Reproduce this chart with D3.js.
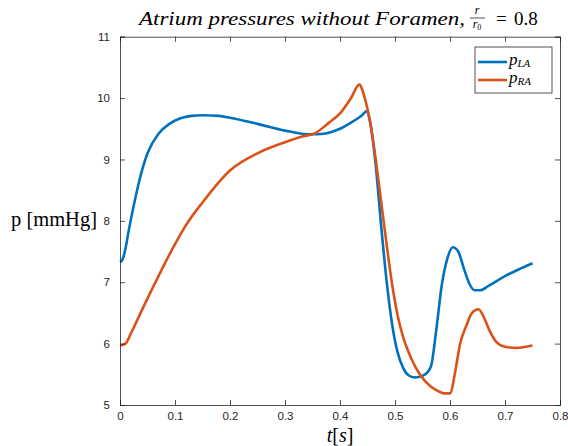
<!DOCTYPE html>
<html lang="en">
<head>
<meta charset="UTF-8">
<script src="https://d3js.org/d3.v7.min.js"></script>
<title>Atrium pressures</title>
<style>
  body { margin: 0; background: #fff; }
  svg { display: block; }
</style>
</head>
<body>
<script>
// left atrium pressure
var tLA = [0, 0.004, 0.01, 0.015, 0.025, 0.035, 0.05, 0.07, 0.09, 0.11, 0.13, 0.15, 0.18, 0.2, 0.25, 0.3, 0.33, 0.35, 0.37, 0.4, 0.42, 0.44, 0.449,
           0.455, 0.465, 0.475, 0.485, 0.495, 0.505, 0.515, 0.525, 0.535, 0.545, 0.555, 0.562, 0.566,
           0.575, 0.585, 0.595, 0.605, 0.615, 0.625, 0.635, 0.645, 0.655, 0.67, 0.7, 0.73, 0.75]
var pLA = [7.33, 7.36, 7.55, 7.8, 8.25, 8.65, 9.1, 9.42, 9.58, 9.67, 9.71, 9.72, 9.71, 9.68, 9.58, 9.47, 9.42, 9.41, 9.42, 9.5, 9.6, 9.72, 9.79,
           9.6, 8.9, 7.9, 7.0, 6.3, 5.85, 5.6, 5.48, 5.45, 5.46, 5.5, 5.57, 5.65,
           6.22, 6.95, 7.38, 7.57, 7.5, 7.23, 6.98, 6.87, 6.87, 6.94, 7.1, 7.23, 7.31]

// right atrium pressure
var tRA = [0, 0.01, 0.02, 0.04, 0.06, 0.08, 0.1, 0.12, 0.15, 0.2, 0.25, 0.3, 0.33, 0.355, 0.38, 0.4, 0.42, 0.435,
           0.445, 0.455, 0.465, 0.475, 0.485, 0.495, 0.505, 0.515, 0.53, 0.545, 0.565, 0.58, 0.59, 0.6,
           0.61, 0.618, 0.63, 0.64, 0.652, 0.662, 0.673, 0.684, 0.7, 0.72, 0.75]
var pRA = [5.97, 6.0, 6.17, 6.55, 6.92, 7.28, 7.62, 7.93, 8.3, 8.82, 9.1, 9.28, 9.37, 9.43, 9.6, 9.75, 10.0, 10.22,
           10.0, 9.6, 9.0, 8.3, 7.6, 6.95, 6.45, 6.1, 5.75, 5.5, 5.3, 5.22, 5.19, 5.19,
           5.57, 5.98, 6.3, 6.5, 6.56, 6.42, 6.19, 6.03, 5.95, 5.93, 5.97]

var xTicks = [0, 0.1, 0.2, 0.3, 0.4, 0.5, 0.6, 0.7, 0.8]
var yTicks = [5, 6, 7, 8, 9, 10, 11]

var width = 568, height = 446
var margin = { top: 36.7, right: 8, bottom: 41, left: 120 }

var svg = d3.select("body").append("svg")
    .attr("width", width)
    .attr("height", height)

var x = d3.scaleLinear().domain([0, 0.8]).range([margin.left, width - margin.right])
var y = d3.scaleLinear().domain([5, 11]).range([height - margin.bottom, margin.top])

var axisColor = "#262626"
var tickLen = 5

// lines
var line = d3.line()
    .x(function (d) { return x(d[0]) })
    .y(function (d) { return y(d[1]) })
    .curve(d3.curveMonotoneX)

var series = [
    { t: tLA, p: pLA, color: "#0072BD" },
    { t: tRA, p: pRA, color: "#D95319" }
]

svg.selectAll("path.series")
    .data(series)
    .enter()
    .append("path")
    .attr("class", "series")
    .attr("fill", "none")
    .attr("stroke", function (d) { return d.color })
    .attr("stroke-width", 2.6)
    .attr("stroke-linejoin", "round")
    .attr("d", function (d) { return line(d.t.map(function (t, i) { return [t, d.p[i]] })) })

// axes (ticks inward, box on)
var gBottom = svg.append("g").attr("transform", "translate(0," + y(5) + ")")
    .call(d3.axisBottom(x).tickValues(xTicks).tickSize(-tickLen).tickPadding(7).tickFormat(d3.format("")))
var gTop = svg.append("g").attr("transform", "translate(0," + y(11) + ")")
    .call(d3.axisTop(x).tickValues(xTicks).tickSize(-tickLen).tickFormat(""))
var gLeft = svg.append("g").attr("transform", "translate(" + x(0) + ",0)")
    .call(d3.axisLeft(y).tickValues(yTicks).tickSize(-tickLen).tickPadding(10).tickFormat(d3.format("d")))
var gRight = svg.append("g").attr("transform", "translate(" + x(0.8) + ",0)")
    .call(d3.axisRight(y).tickValues(yTicks).tickSize(-tickLen).tickFormat(""))

;[gBottom, gTop, gLeft, gRight].forEach(function (g) {
    g.select(".domain").attr("stroke", axisColor).attr("stroke-width", 0.8)
    g.selectAll(".tick line").attr("stroke", axisColor).attr("stroke-width", 0.8)
    g.selectAll("text").attr("fill", axisColor)
        .style("font-family", "'Liberation Sans', Arial, sans-serif")
        .style("font-size", "11.5px")
})

// title
var serif = "'Liberation Serif', 'DejaVu Serif', serif"
var title = svg.append("g").style("font-family", serif).attr("fill", "#000")
title.append("text")
    .attr("x", 139).attr("y", 25)
    .attr("font-style", "italic")
    .attr("font-size", "19px")
    .attr("textLength", 326)
    .attr("lengthAdjust", "spacingAndGlyphs")
    .text("Atrium pressures without Foramen,")
title.append("text")
    .attr("x", 477).attr("y", 14)
    .attr("text-anchor", "middle")
    .attr("font-style", "italic")
    .attr("font-size", "12px")
    .text("r")
title.append("line")
    .attr("x1", 470).attr("x2", 485)
    .attr("y1", 18).attr("y2", 18)
    .attr("stroke", "#000").attr("stroke-width", 0.7)
var r0 = title.append("text")
    .attr("x", 477).attr("y", 28)
    .attr("text-anchor", "middle")
    .attr("font-size", "12px")
r0.append("tspan").attr("font-style", "italic").text("r")
r0.append("tspan").attr("font-size", "8px").attr("dy", 2).text("0")
title.append("text")
    .attr("x", 496).attr("y", 25)
    .attr("font-size", "19px")
    .text("=")
title.append("text")
    .attr("x", 514).attr("y", 25)
    .attr("font-size", "19px")
    .text("0.8")

// axis labels
svg.append("text")
    .attr("x", 11).attr("y", 226)
    .style("font-family", serif)
    .attr("font-size", "20px")
    .attr("textLength", 86)
    .attr("lengthAdjust", "spacingAndGlyphs")
    .text("p [mmHg]")

var xl = svg.append("text")
    .attr("x", x(0.4)).attr("y", 442)
    .attr("text-anchor", "middle")
    .style("font-family", serif)
    .attr("font-size", "20px")
xl.append("tspan").attr("font-style", "italic").text("t")
xl.append("tspan").text("[")
xl.append("tspan").attr("font-style", "italic").text("s")
xl.append("tspan").text("]")

// legend
var legend = svg.append("g").attr("transform", "translate(475,47)")
legend.append("rect")
    .attr("width", 77).attr("height", 46)
    .attr("fill", "#fff")
    .attr("stroke", axisColor)
    .attr("stroke-width", 0.8)

var legendItems = [
    { name: "p", sub: "LA", color: "#0072BD" },
    { name: "p", sub: "RA", color: "#D95319" }
]
var item = legend.selectAll("g.item")
    .data(legendItems)
    .enter()
    .append("g")
    .attr("class", "item")
    .attr("transform", function (d, i) { return "translate(0," + (15 + i * 18) + ")" })
item.append("line")
    .attr("x1", 3).attr("x2", 32)
    .attr("stroke", function (d) { return d.color })
    .attr("stroke-width", 2.6)
var lt = item.append("text")
    .attr("x", 34).attr("y", 3)
    .style("font-family", serif)
    .attr("font-style", "italic")
    .attr("font-size", "17px")
lt.append("tspan").text(function (d) { return d.name })
lt.append("tspan").attr("font-size", "11px").attr("dy", 2).text(function (d) { return d.sub })
</script>
</body>
</html>
